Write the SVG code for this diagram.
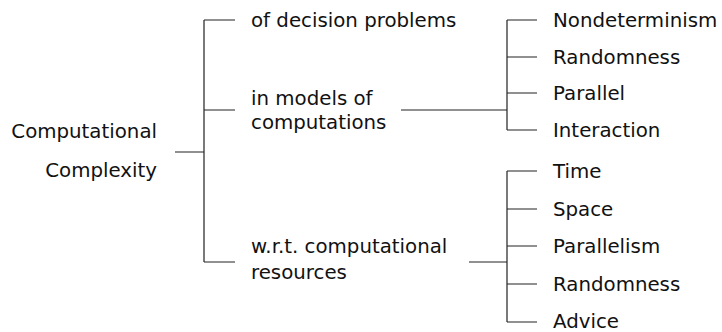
<svg xmlns="http://www.w3.org/2000/svg" width="722" height="332" viewBox="0 0 722 332">
<style>
text{font-family:"DejaVu Sans",sans-serif;font-size:19.8px;fill:#111;}
.c{fill:none;stroke:#222;stroke-width:1.2;}
</style>
<rect width="722" height="332" fill="#fff"/>
<g id="connectors">
<path class="c" d="M175,152H204M204,20V262M204,20H235M204,110H235M204,262H235"/>
<path class="c" d="M401,110H507M507,20V130M507,20H537M507,57H537M507,93H537M507,130H537"/>
<path class="c" d="M469,262H507M507,171V322M507,171H537M507,209H537M507,246H537M507,284H537M507,322H537"/>
</g>
<g id="root"><text x="157" y="138" text-anchor="end">Computational</text><text x="157" y="177" text-anchor="end">Complexity</text></g>
<g id="decision"><text x="251" y="27">of decision problems</text></g>
<g id="models"><text x="251" y="105">in models of</text><text x="251" y="129">computations</text></g>
<g id="resources"><text x="251" y="253">w.r.t. computational</text><text x="251" y="279">resources</text></g>
<g id="nondeterminism"><text x="553" y="27">Nondeterminism</text></g>
<g id="randomness1"><text x="553" y="64">Randomness</text></g>
<g id="parallel"><text x="553" y="100">Parallel</text></g>
<g id="interaction"><text x="553" y="137">Interaction</text></g>
<g id="time"><text x="553" y="178">Time</text></g>
<g id="space"><text x="553" y="216">Space</text></g>
<g id="parallelism"><text x="553" y="253">Parallelism</text></g>
<g id="randomness2"><text x="553" y="291">Randomness</text></g>
<g id="advice"><text x="553" y="328">Advice</text></g>
</svg>
